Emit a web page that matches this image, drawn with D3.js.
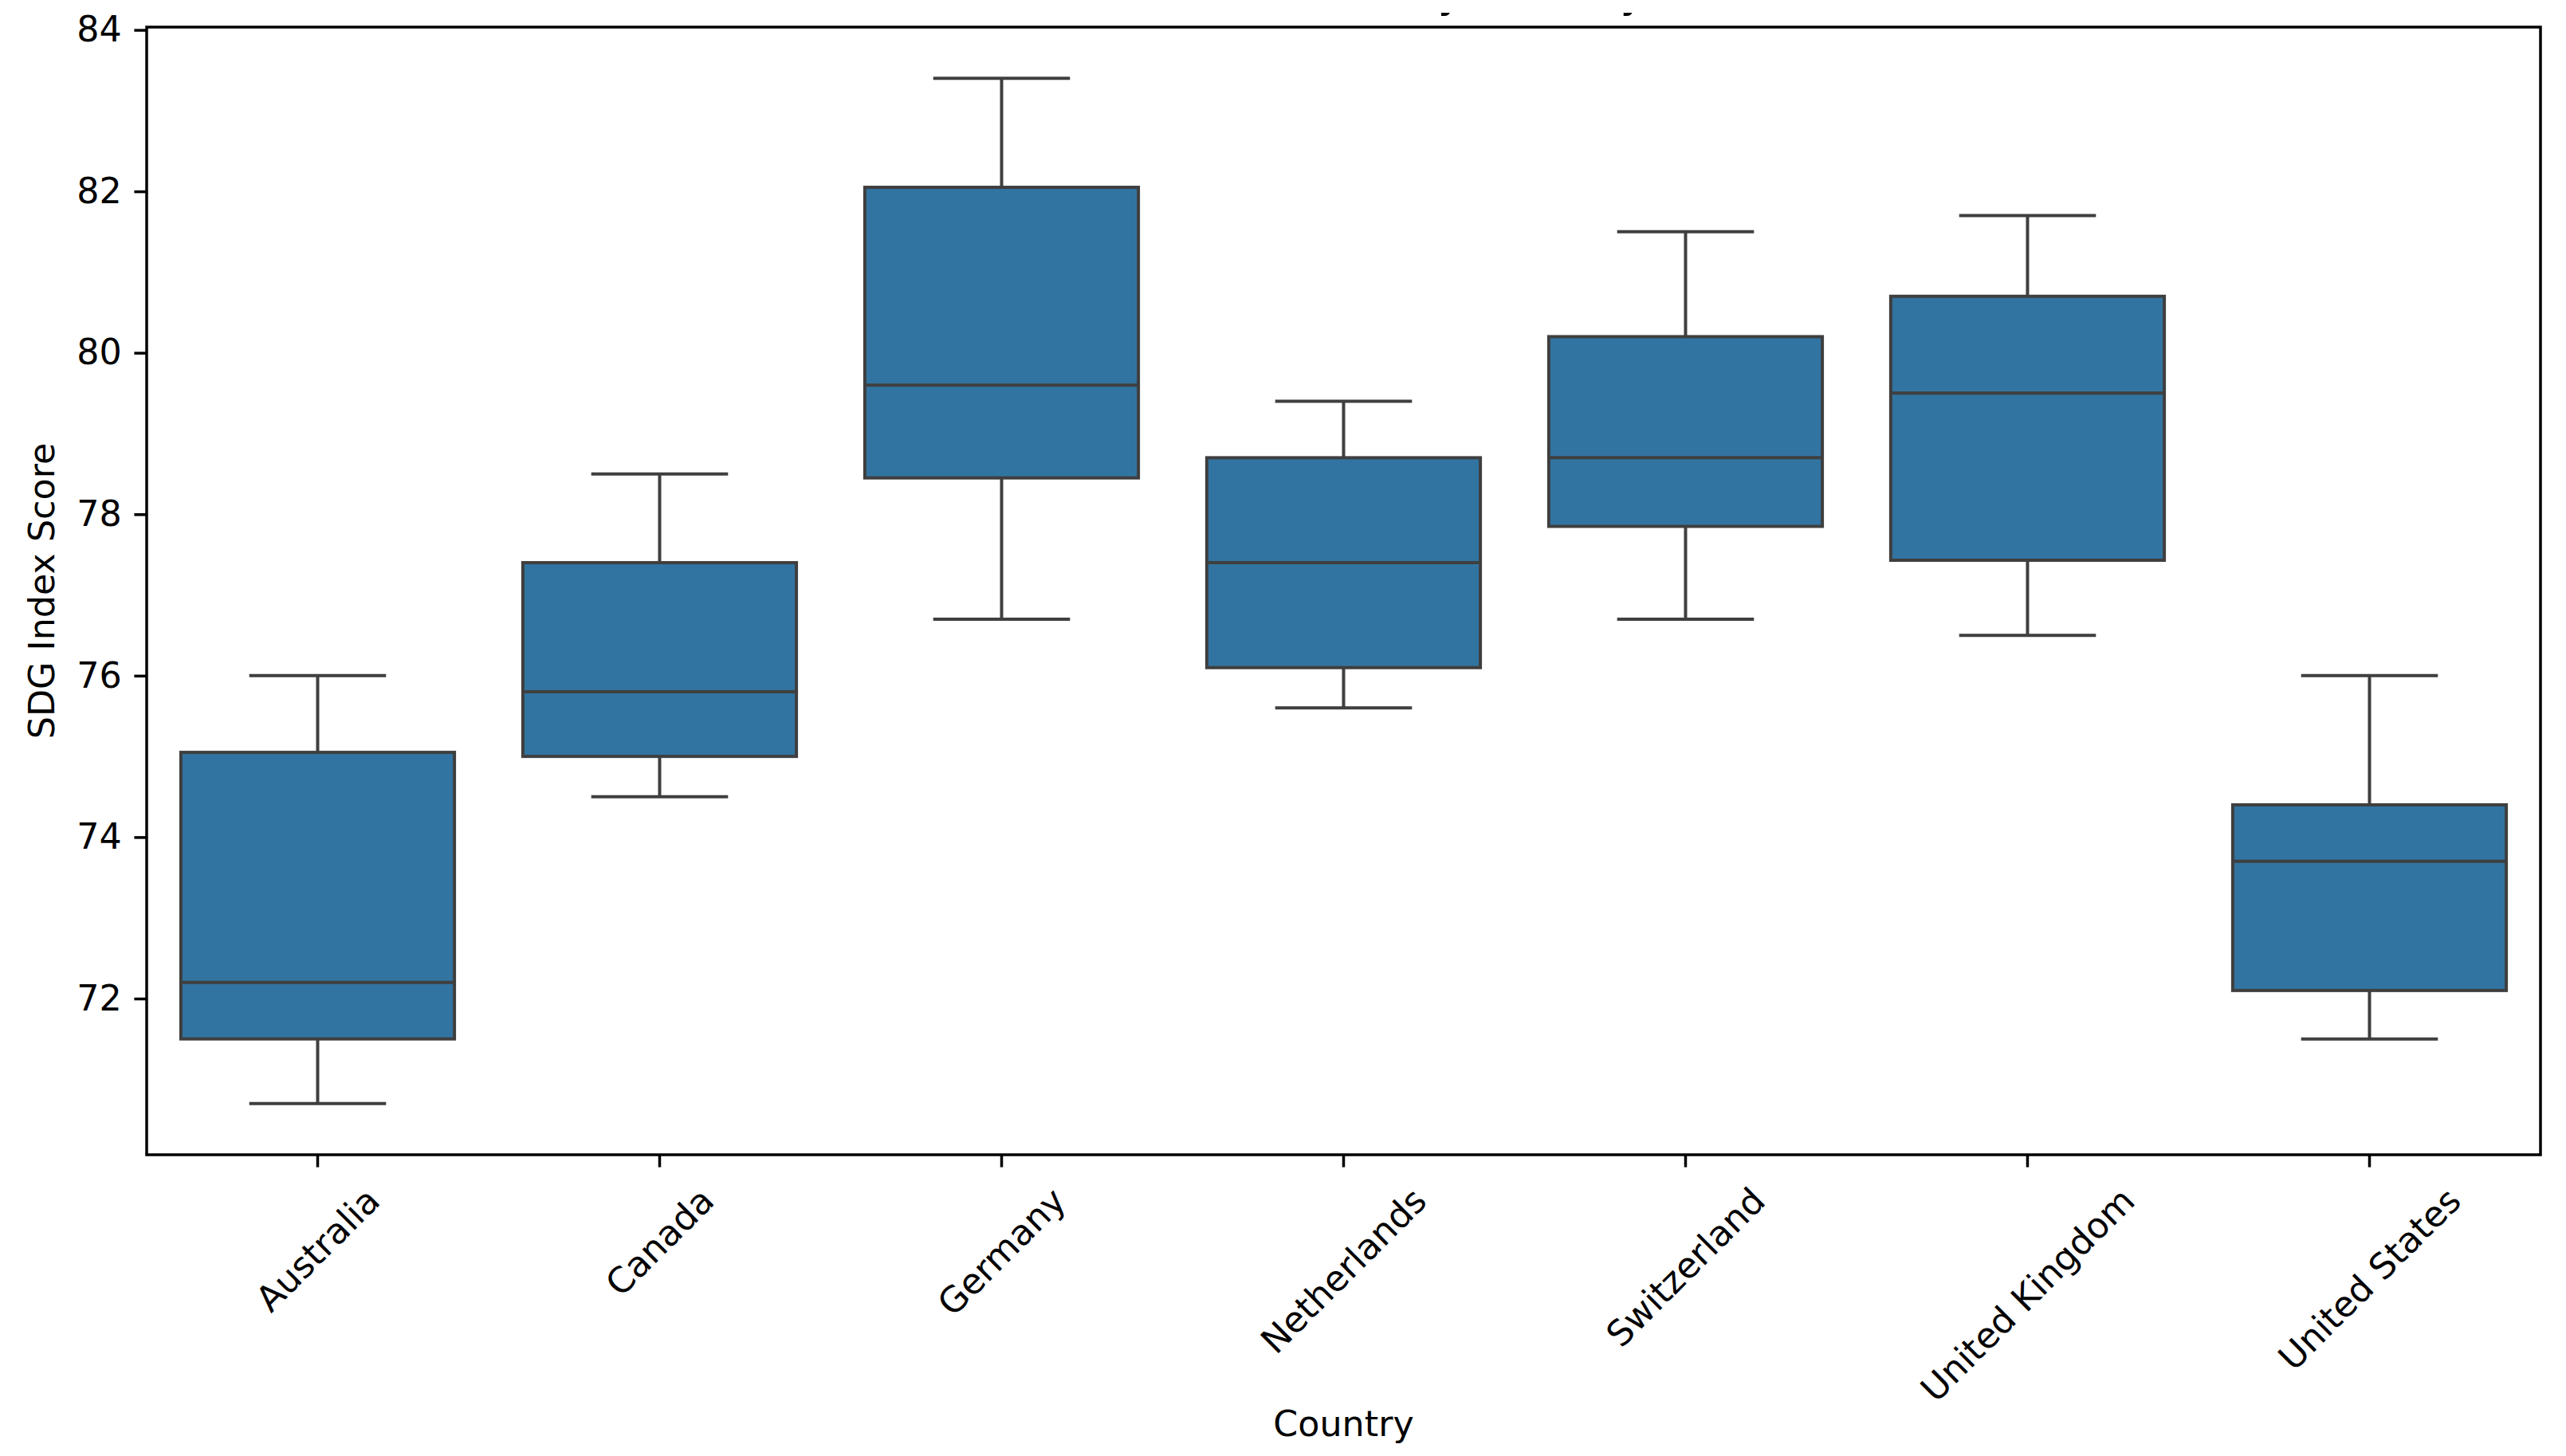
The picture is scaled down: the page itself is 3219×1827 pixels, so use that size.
<!DOCTYPE html>
<html>
<head>
<meta charset="utf-8">
<script src="https://cdn.jsdelivr.net/npm/d3@7"></script>
<style>
  body { margin: 0; background: #fff; }
  text { font-family: "DejaVu Sans", sans-serif; fill: #000; }
</style>
</head>
<body>
<svg id="chart"></svg>
<script>
// values (seaborn-style box plot)
var countries = ["Australia", "Canada", "Germany", "Netherlands", "Switzerland", "United Kingdom", "United States"];
var lowerWhisker = [70.7, 74.5, 76.7, 75.6, 76.7, 76.5, 71.5];
var q1 = [71.5, 75.0, 78.45, 76.1, 77.85, 77.43, 72.1];
var median = [72.2, 75.8, 79.6, 77.4, 78.7, 79.5, 73.7];
var q3 = [75.05, 77.4, 82.05, 78.7, 80.2, 80.7, 74.4];
var upperWhisker = [76.0, 78.5, 83.4, 79.4, 81.5, 81.7, 76.0];
var yTicks = [72, 74, 76, 78, 80, 82, 84];

var W = 3219, H = 1827;
var margin = { top: 34, right: 32, bottom: 378, left: 184 };
var fontSize = 44.4, tickLen = 15.6, tickPad = 15.6, spineW = 3.5, boxLineW = 4;
var boxColor = "#3274a1", lineColor = "#3f3f3f";

var svg = d3.select("#chart").attr("width", W).attr("height", H);

var data = countries.map(function(c, i) {
  return { name: c, lo: lowerWhisker[i], q1: q1[i], med: median[i], q3: q3[i], hi: upperWhisker[i] };
});

var x = d3.scaleBand().domain(countries).range([margin.left, W - margin.right]).padding(0);
var allVals = lowerWhisker.concat(upperWhisker);
var lo = d3.min(allVals), hi = d3.max(allVals), pad = (hi - lo) * 0.05;
var y = d3.scaleLinear().domain([lo - pad, hi + pad]).range([H - margin.bottom, margin.top]);

var bw = x.bandwidth() * 0.8, cw = bw / 2;

var g = svg.append("g").selectAll("g.box")
    .data(data)
  .enter().append("g")
    .attr("class", "box")
    .attr("transform", function(d) { return "translate(" + (x(d.name) + x.bandwidth() / 2) + ",0)"; });

function seg(sel, x1, x2, y1, y2) {
  sel.append("line").attr("x1", x1).attr("x2", x2).attr("y1", y1).attr("y2", y2)
    .attr("stroke", lineColor).attr("stroke-width", boxLineW);
}
// whiskers + caps
seg(g, 0, 0, function(d) { return y(d.hi); }, function(d) { return y(d.q3); });
seg(g, 0, 0, function(d) { return y(d.q1); }, function(d) { return y(d.lo); });
seg(g, -cw / 2, cw / 2, function(d) { return y(d.hi); }, function(d) { return y(d.hi); });
seg(g, -cw / 2, cw / 2, function(d) { return y(d.lo); }, function(d) { return y(d.lo); });
// boxes
g.append("rect")
  .attr("x", -bw / 2).attr("width", bw)
  .attr("y", function(d) { return y(d.q3); })
  .attr("height", function(d) { return y(d.q1) - y(d.q3); })
  .attr("fill", boxColor).attr("stroke", lineColor).attr("stroke-width", boxLineW);
// medians
seg(g, -bw / 2, bw / 2, function(d) { return y(d.med); }, function(d) { return y(d.med); });

// y axis
var yAxis = svg.append("g")
    .attr("transform", "translate(" + margin.left + ",0)")
    .call(d3.axisLeft(y).tickValues(yTicks).tickFormat(d3.format("d")).tickSize(tickLen).tickPadding(tickPad));
yAxis.select(".domain").remove();
yAxis.selectAll("line").attr("stroke", "#000").attr("stroke-width", spineW);
yAxis.selectAll("text").attr("font-size", fontSize).attr("font-family", "DejaVu Sans");

// x axis, labels turned 45 degrees and centred under the tick
var xAxis = svg.append("g")
    .attr("transform", "translate(0," + (H - margin.bottom) + ")")
    .call(d3.axisBottom(x).tickSize(tickLen).tickPadding(tickPad));
xAxis.select(".domain").remove();
xAxis.selectAll("line").attr("stroke", "#000").attr("stroke-width", spineW);
xAxis.selectAll("text")
    .attr("font-size", fontSize).attr("font-family", "DejaVu Sans")
    .attr("text-anchor", "middle").attr("dy", "0.35em")
    .attr("y", null)
    .attr("transform", function() {
      var w = this.getComputedTextLength(), h = fontSize * 1.17;
      var rh = (w + h) * Math.SQRT1_2;
      return "translate(0," + (tickLen + tickPad + rh / 2) + ") rotate(-45)";
    });

// frame
svg.append("rect")
  .attr("x", margin.left).attr("y", margin.top)
  .attr("width", W - margin.left - margin.right)
  .attr("height", H - margin.top - margin.bottom)
  .attr("fill", "none").attr("stroke", "#000").attr("stroke-width", spineW);

// axis labels
svg.append("text")
  .attr("transform", "translate(68," + ((margin.top + H - margin.bottom) / 2) + ") rotate(-90)")
  .attr("text-anchor", "middle").attr("font-size", fontSize)
  .text("SDG Index Score");
svg.append("text")
  .attr("x", (margin.left + W - margin.right) / 2).attr("y", 1802)
  .attr("text-anchor", "middle").attr("font-size", fontSize)
  .text("Country");

// title, cut off by the top edge of the picture
svg.append("clipPath").attr("id", "titleclip")
  .append("rect").attr("x", 0).attr("y", 16).attr("width", W).attr("height", 40);
svg.append("text")
  .attr("clip-path", "url(#titleclip)")
  .attr("x", (margin.left + W - margin.right) / 2).attr("y", 9)
  .attr("text-anchor", "middle").attr("font-size", 53.3)
  .text("SDG Index Score by Country");
</script>
</body>
</html>
